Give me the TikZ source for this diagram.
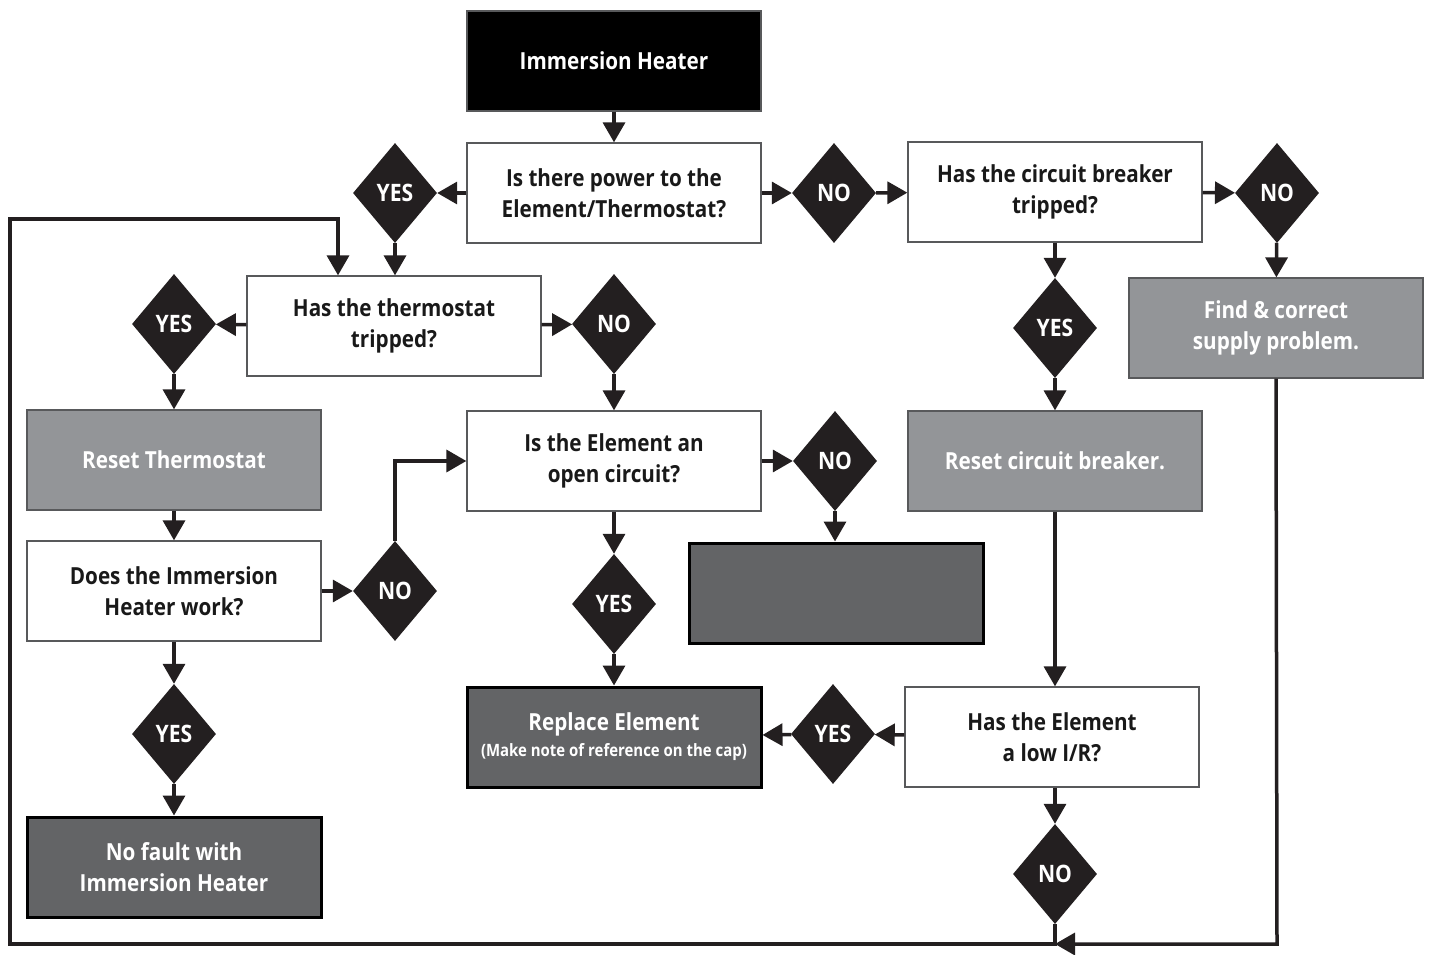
\documentclass[tikz,border=0pt]{standalone}
\usepackage{fontspec}
\setmainfont{Open Sans}[FakeStretch=0.88]
\usetikzlibrary{shapes.geometric,arrows.meta}

\definecolor{dmd}{HTML}{231F20}
\definecolor{midgray}{HTML}{939598}
\definecolor{deepgray}{HTML}{636466}
\definecolor{edge}{HTML}{58595B}

\tikzset{
  base/.style={rectangle, minimum width=294pt, minimum height=100pt, align=center,
    inner sep=0pt, font=\bfseries\fontsize{23.5pt}{31pt}\selectfont},
  qbox/.style={base, draw=edge, line width=1.3pt, fill=white, text=black!90},
  actbox/.style={base, draw=edge, line width=1.3pt, fill=midgray, text=white},
  endbox/.style={base, draw=black, line width=3pt, fill=deepgray, text=white},
  topbox/.style={base, draw=edge, line width=1.3pt, fill=black, text=white},
  dec/.style={diamond, fill=dmd, minimum width=84pt, minimum height=100pt, inner sep=0pt,
    text=white, font=\bfseries\fontsize{24pt}{25pt}\selectfont},
  link/.style={line width=3.5pt, draw=dmd, -{Triangle[length=20pt,width=22pt]}}
}

\begin{document}
\begin{tikzpicture}[x=1pt,y=-1pt]
\useasboundingbox (0,0) rectangle (1432,955);

% process boxes
\node[topbox] (start) at (614,61) {Immersion Heater};
\node[qbox] (q1) at (614,193) {Is there power to the\\Element/Thermostat?};
\node[qbox] (q3) at (1055,192) {Has the circuit breaker\\tripped?};
\node[actbox] (find) at (1276,328) {Find \& correct\\supply problem.};
\node[qbox] (q2) at (394,326) {Has the thermostat\\tripped?};
\node[actbox] (rth) at (174,460) {Reset Thermostat};
\node[qbox] (q4) at (614,461) {Is the Element an\\open circuit?};
\node[endbox] (blank) at (836,593) {};
\node[actbox] (rcb) at (1055,461) {Reset circuit breaker.};
\node[qbox] (q5) at (174,591) {Does the Immersion\\Heater work?};
\node[endbox] (repl) at (614,737) {Replace Element\\[-5pt]{\fontsize{17pt}{19pt}\selectfont (Make note of reference on the cap)}};
\node[qbox] (q6) at (1052,737) {Has the Element\\a low I/R?};
\node[endbox] (ok) at (174,867) {No fault with\\Immersion Heater};

% decisions
\node[dec] (y1) at (395,193) {YES};
\node[dec] (n1) at (834,193) {NO};
\node[dec] (n3) at (1277,193) {NO};
\node[dec] (y3) at (1055,328) {YES};
\node[dec] (y2) at (174,324) {YES};
\node[dec] (n2) at (614,324) {NO};
\node[dec] (n4) at (835,461) {NO};
\node[dec] (y4) at (614,604) {YES};
\node[dec] (n5) at (395,591) {NO};
\node[dec] (y5) at (174,734) {YES};
\node[dec] (y6) at (833,734) {YES};
\node[dec] (n6) at (1055,874) {NO};

% corners of the return loop
\coordinate (cBR) at (1055,944);
\coordinate (cFR) at (1277,944);
\coordinate (cBL) at (10,944);
\coordinate (cTL) at (10,219);
\coordinate (cTR) at (338,219);

% connectors
\draw[link] (start) -- (q1);
\draw[link] (q1) -- (y1);
\draw[link] (y1) -- (y1 |- q2.north);
\draw[link] (q1) -- (n1);
\draw[link] (n1) -- (q3);
\draw[link] (q3) -- (n3);
\draw[link] (n3) -- (find);
\draw[link] (q3.south -| y3) -- (y3);
\draw[link] (y3) -- (rcb);
\draw[link] (rcb.south) -- (rcb.south |- q6.north);
\draw[link] (q6) -- (y6);
\draw[link] (y6) -- (repl);
\draw[link] (q6.south -| n6) -- (n6);
\draw[link] (q2) -- (y2);
\draw[link] (y2) -- (rth);
\draw[link] (q2) -- (n2);
\draw[link] (n2) -- (q4);
\draw[link] (q4) -- (n4);
\draw[link] (n4) -- (n4 |- blank.north);
\draw[link] (q4) -- (y4);
\draw[link] (y4) -- (repl);
\draw[link] (rth) -- (q5);
\draw[link] (q5) -- (n5);
\draw[link] (n5.north) |- (q4.west);
\draw[link] (q5) -- (y5);
\draw[link] (y5) -- (ok);
\draw[link] (n6.south) -- (cBR) -- (cBL) -- (cTL) -- (cTR) -- (cTR |- q2.north);
\draw[link] (find.south) -- (cFR) -- (cBR);
\end{tikzpicture}
\end{document}
